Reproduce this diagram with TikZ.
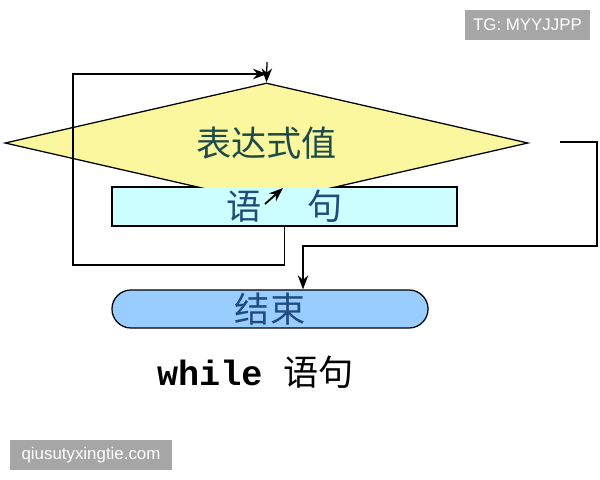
\documentclass[tikz,border=0pt]{standalone}
\usepackage{fontspec}
\newfontfamily\cjk{Noto Sans CJK SC}
\newfontfamily\codefont{Liberation Mono}
\newfontfamily\markfont{Liberation Sans}
\usetikzlibrary{
  shapes.geometric, % Shape "diamond"
  shapes.misc,      % Shape "rounded rectangle"
  arrows.meta,
  positioning,
  calc,
}
\definecolor{condfill}{HTML}{FAF79E}
\definecolor{bodyfill}{HTML}{CCFFFF}
\definecolor{endfill}{HTML}{99CCFF}
\definecolor{condtext}{HTML}{1E4A4A}
\definecolor{bluetext}{HTML}{1F4C7C}
\definecolor{markgray}{HTML}{A6A6A6}
\def\mysize{\fontsize{25}{25}\selectfont}
\def\mycut{187}
\tikzset{
  flow/.style={
    x=0.025cm,
    y=-0.025cm,  % pixel coordinates, y downwards
    line width=0.9pt,
    >={Stealth[length=10pt,width=7.5pt]}
  },
  my cond/.style={
    diamond,
    aspect=4.2,
    draw,
    fill=condfill,
    minimum width=13.075cm,
    minimum height=3.0cm,
    inner sep=0pt,
    font=\cjk\mysize,
    text=condtext
  },
  my box/.style={
    rectangle,
    draw,
    fill=bodyfill,
    minimum width=8.625cm,
    minimum height=0.975cm,
    inner sep=0pt,
    font=\cjk\mysize,
    text=bluetext
  },
  my end/.style={
    rounded rectangle,
    draw,
    fill=endfill,
    minimum width=7.9cm,
    minimum height=0.95cm,
    inner sep=0pt,
    font=\cjk\mysize,
    text=bluetext
  },
  mark box/.style={
    fill=markgray,
    text=white,
    minimum width=3.125cm,
    minimum height=0.75cm,
    inner sep=0pt,
    font=\markfont\fontsize{12}{12}\selectfont
  }
}
\begin{document}
\begin{tikzpicture}[flow]
\useasboundingbox (0,0) rectangle (600,480);
\node[my box] (body) at (284.5,206.5) {语\hspace{1.3em}句};
\begin{scope}
  \clip (0,0) rectangle (600,\mycut);  % bottom of diamond hidden at box top
  \node[my cond] (cond) at (266.5,143) {\raisebox{0.1em}{表达式值}};
\end{scope}
\node[my end] (end) at (270,309) {结束};
\node (title) at (255.5,372) {{\codefont\bfseries\mysize while }{\cjk\mysize 语句}};
\node[mark box] (tg) at (527.5,25) {TG: MYYJJPP};
\node[mark box,minimum width=4.05cm] (site) at (91,455) {qiusutyxingtie.com};
\coordinate (entry) at (267,62);
\coordinate (join)  at (267,74);
\coordinate (back)  at (73,265);
\coordinate (out)   at (560,142);
\coordinate (rgt)   at (597,246);
\coordinate (drop)  at (303,246);
\coordinate (tick)  at (265,204);
\coordinate (tip)   at (283,188);
\draw[->] (entry) -- (cond.north);
\draw[->] (body.south) |- (back) |- (join);
\draw[->] (out) -| (rgt) -- (drop) -- (drop |- end.north);
\draw[->,line width=1.3pt] (tick) -- (tip);
\end{tikzpicture}
\end{document}
